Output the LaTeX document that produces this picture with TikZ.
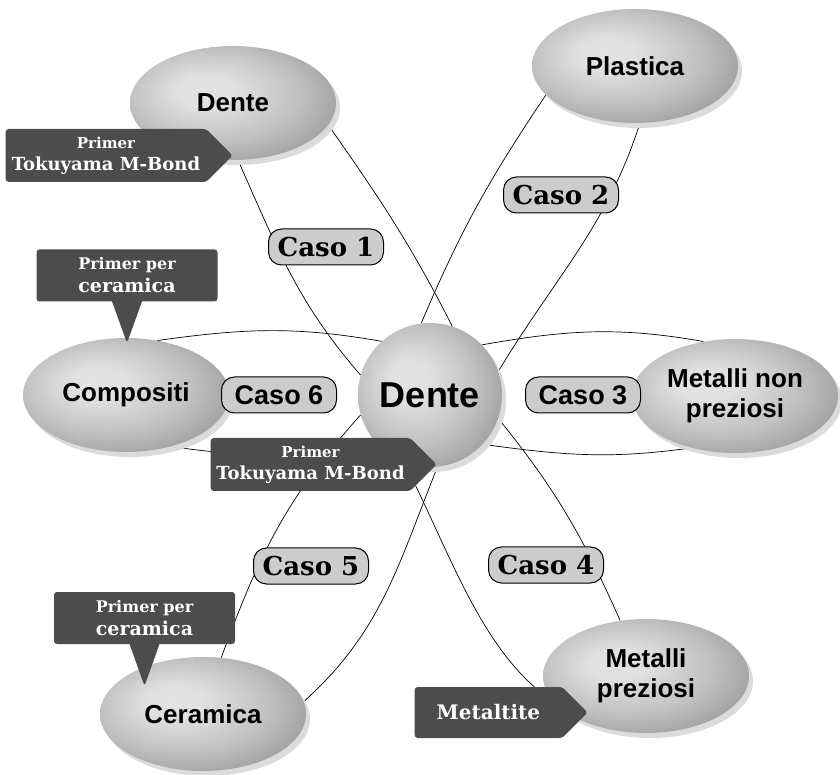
\documentclass[tikz,border=0pt]{standalone}
\usepackage{fontspec}
\setmainfont{DejaVu Serif}
\newfontfamily\helv{Liberation Sans}
\usetikzlibrary{shapes.geometric,shapes.symbols,shapes.callouts,shadows,backgrounds}
\pgfdeclareradialshading{orb}{\pgfpoint{-8bp}{6bp}}{color(0bp)=(black!11); color(7bp)=(black!12); color(20bp)=(black!24); color(31bp)=(black!38); color(36bp)=(black!43); color(50bp)=(black!45)}
\tikzset{
	blob/.style={ellipse, shade, shading=orb, minimum width=206pt, minimum height=114pt, inner sep=0pt, align=center,
		font=\helv\bfseries\fontsize{26}{30}\selectfont,
		drop shadow={shadow xshift=4pt, shadow yshift=-5pt, fill=black!14, opacity=1}},
	hub/.style={blob, circle, minimum size=144pt, font=\helv\bfseries\fontsize{36}{40}\selectfont},
	caso/.style={draw, line width=1pt, fill=black!20, rounded corners=13pt, minimum width=115pt, minimum height=36pt,
		inner sep=0pt, font=\bfseries\fontsize{26}{28}\selectfont},
	sanscaso/.style={caso, font=\helv\bfseries\fontsize{27}{28}\selectfont},
	tag/.style={signal, signal to=east, signal pointer angle=90, fill=black!70, text=white, rounded corners=3pt,
		inner sep=0pt, align=center, font=\bfseries\fontsize{18}{22}\selectfont},
	bubble/.style={rectangle callout, callout pointer width=30pt, fill=black!70, text=white, rounded corners=3pt,
		minimum width=181pt, minimum height=52pt, inner sep=0pt, align=center, font=\bfseries\fontsize{19}{23}\selectfont},
	link/.style={line width=0.7pt}
}
\begin{document}
\begin{tikzpicture}[x=1pt,y=1pt]
	\useasboundingbox (0,0) rectangle (840,774);

	% Draw central node and materials
	\node[hub] (centro) at (430,379) {Dente};
	\node[blob] (dente) at (233,671) {Dente};
	\node[blob] (plast) at (635,708) {Plastica};
	\node[blob] (metnp) at (735,378) {Metalli non\\preziosi};
	\node[blob] (comp) at (126,379) {Compositi};
	\node[blob] (ceram) at (203,60) {Ceramica};
	\node[blob] (metp) at (646,98) {Metalli\\preziosi};

	% Draw lenses between centre and materials
	\begin{scope}[on background layer]
		% Caso 1
		\draw[link] (dente.-85) to[out=-66, in=131] (centro.164);
		\draw[link] (dente.-13) to[out=-55, in=117] (centro.72);
		% Caso 2
		\draw[link] (plast.198) to[out=236, in=67] (centro.97);
		\draw[link] (plast.-85) to[out=252, in=59] (centro.19);
		% Caso 3
		\draw[link] (centro.44) to[out=10, in=170] (metnp.120);
		\draw[link] (centro.-43) to[out=-8, in=188] (metnp.230);
		% Caso 4
		\draw[link] (centro.249) to[out=-63, in=172] (metp.-100);
		\draw[link] (centro.-19) to[out=-51, in=114] (metp.115);
		% Caso 5
		\draw[link] (centro.196) to[out=228, in=70] (ceram.72);
		\draw[link] (centro.-84) to[out=-112, in=42] (ceram.7);
		% Caso 6
		\draw[link] (centro.132) to[out=170, in=8] (comp.60);
		\draw[link] (centro.223) to[out=190, in=-8] (comp.-49);
	\end{scope}

	% Case labels
	\node[caso] (caso1) at (326,527) {Caso 1};
	\node[caso] (caso2) at (561,579) {Caso 2};
	\node[sanscaso] (caso3) at (583,379) {Caso 3};
	\node[caso] (caso4) at (546,209) {Caso 4};
	\node[caso] (caso5) at (311,208) {Caso 5};
	\node[sanscaso] (caso6) at (279,379) {Caso 6};

	% Primer tags
	\node[tag, anchor=east, minimum width=227pt, minimum height=53pt] (tok1) at (233,618.5)
		{{\fontsize{15}{18}\selectfont Primer}\\Tokuyama M-Bond};
	\node[tag, anchor=east, minimum width=226pt, minimum height=53pt] (tok2) at (437,309.5)
		{{\fontsize{15}{18}\selectfont Primer}\\Tokuyama M-Bond};
	\node[tag, anchor=east, minimum width=173pt, minimum height=51pt, font=\bfseries\fontsize{20}{22}\selectfont] (metal) at (588,61.5)
		{Metaltite};
	\node[bubble, callout relative pointer={(0pt,-41.5pt)}] (cer1) at (127,498.5)
		{{\fontsize{16}{19}\selectfont Primer per}\\ceramica};
	\node[bubble, callout relative pointer={(0pt,-42pt)}] (cer2) at (144.5,156)
		{{\fontsize{16}{19}\selectfont Primer per}\\ceramica};
\end{tikzpicture}
\end{document}
